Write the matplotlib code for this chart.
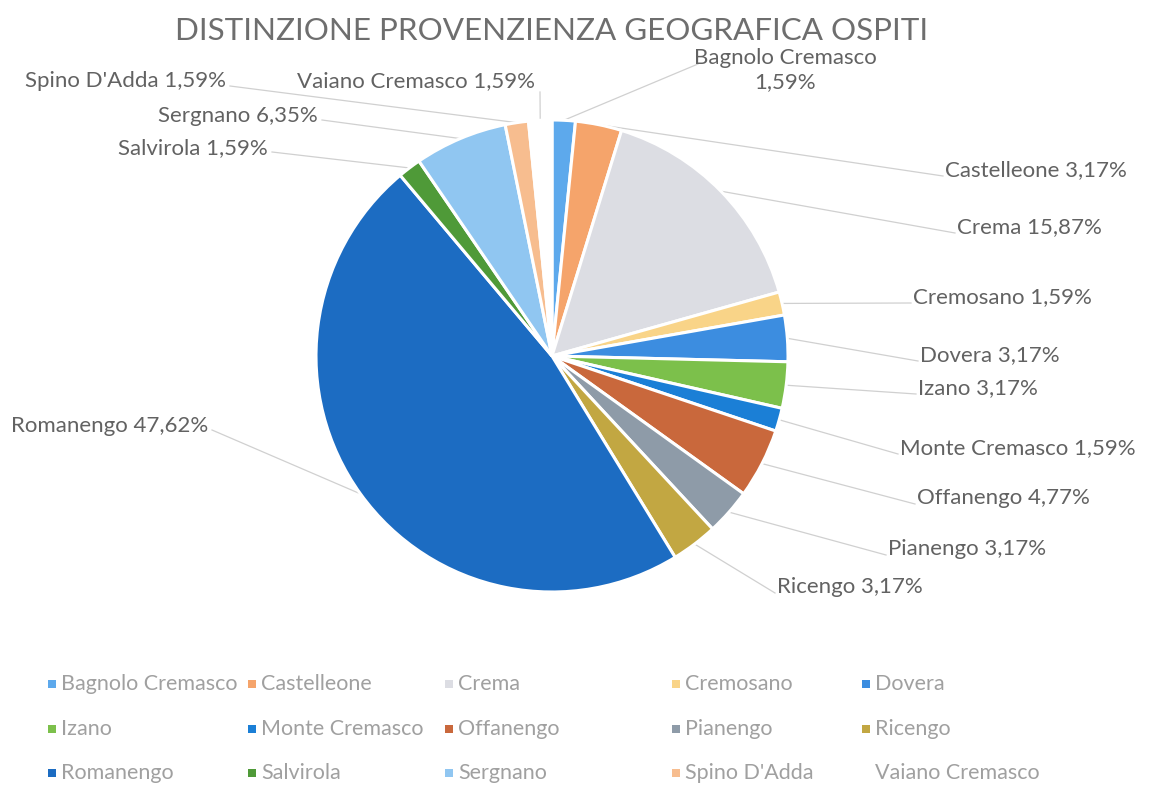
import matplotlib
matplotlib.use('Agg')
import matplotlib.pyplot as plt
from matplotlib.patches import Rectangle
import numpy as np

# ==========================================================
# DATA
# ==========================================================
title = 'DISTINZIONE PROVENZIENZA GEOGRAFICA OSPITI'
places = ['Bagnolo Cremasco', 'Castelleone', 'Crema', 'Cremosano', 'Dovera',
          'Izano', 'Monte Cremasco', 'Offanengo', 'Pianengo', 'Ricengo',
          'Romanengo', 'Salvirola', 'Sergnano', "Spino D'Adda", 'Vaiano Cremasco']
percent = [1.59, 3.17, 15.87, 1.59, 3.17,
           3.17, 1.59, 4.77, 3.17, 3.17,
           47.62, 1.59, 6.35, 1.59, 1.59]
colors = ['#5DA9EC', '#F5A46B', '#DCDDE3', '#F9D488', '#3C8DE0',
          '#7CC04B', '#1B7FD6', '#C9683C', '#8E9BA8', '#C2A742',
          '#1C6CC2', '#4F9A38', '#90C6F1', '#F7BD8F', '#FFFFFF']

# ==========================================================
# LAYOUT (pixel coords, y measured from top)
# ==========================================================
W, H = 1151, 786
pie_cx, pie_cy, pie_r = 552, 356, 236
# label: (x, y, ha, leader start x, leader start y)
label_pos = [
    (785, 70, 'center', 698, 64),
    (945, 170, 'left', 943, 176),
    (957, 227, 'left', 955, 233),
    (913, 297, 'left', 911, 303),
    (920, 355, 'left', 918, 361),
    (918, 388, 'left', 916, 394),
    (900, 448, 'left', 898, 454),
    (917, 498, 'left', 915, 504),
    (888, 549, 'left', 886, 555),
    (777, 587, 'left', 775, 593),
    (208, 426, 'right', 212, 430),
    (268, 148, 'right', 272, 152),
    (318, 116, 'right', 322, 120),
    (226, 81, 'right', 230, 86),
    (535, 81, 'right', 540, 92),
]
leg_cols = [52, 252, 449, 676, 866]
leg_rows = [684, 729, 773]

plt.rcParams['font.family'] = ['Lato', 'DejaVu Sans']

fig = plt.figure(figsize=(W / 100, H / 100), dpi=100)
ax = fig.add_axes([0, 0, 1, 1])


def fy(py):
    return H - py


wedges, _ = ax.pie(percent, colors=colors, startangle=90, counterclock=False,
                   center=(pie_cx, fy(pie_cy)), radius=pie_r,
                   wedgeprops=dict(edgecolor='white', linewidth=2.2))

# data labels + leader lines
for w, name, val, (lx, ly, ha, sx, sy) in zip(wedges, places, percent, label_pos):
    txt_val = f"{val:.2f}".replace('.', ',') + '%'
    if name == 'Bagnolo Cremasco':
        txt = f"{name}\n{txt_val}"
    else:
        txt = f"{name} {txt_val}"
    ax.text(lx, fy(ly), txt, ha=ha, va='center', fontsize=16, color='#626262',
            multialignment='center', linespacing=1.2)
    mid = np.deg2rad((w.theta1 + w.theta2) / 2)
    ex = pie_cx + pie_r * np.cos(mid)
    ey = fy(pie_cy) + pie_r * np.sin(mid)
    ax.plot([sx, ex], [fy(sy), ey], color='#D0D0D0', lw=0.9, zorder=0)

ax.text(pie_cx, fy(31), title, ha='center', va='center', fontsize=22.6,
        color='#6E6E6E')

# legend
for i, (name, c) in enumerate(zip(places, colors)):
    cx = leg_cols[i % 5]
    cy = leg_rows[i // 5]
    ax.add_patch(Rectangle((cx - 4, fy(cy) - 4), 8, 8, facecolor=c, edgecolor='none'))
    ax.text(cx + 9, fy(cy), name, ha='left', va='center', fontsize=15.5, color='#A0A0A0')

ax.set_xlim(0, W)
ax.set_ylim(0, H)
ax.set_aspect('equal')
ax.axis('off')

fig.savefig('out.png', dpi=100, facecolor='white')
